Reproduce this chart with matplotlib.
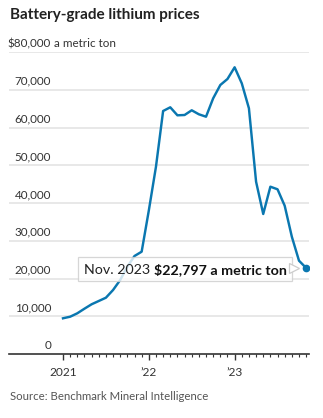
import numpy as np
import matplotlib.pyplot as plt
from matplotlib import transforms
from matplotlib.offsetbox import TextArea, HPacker, AnnotationBbox

plt.rcParams['font.family'] = ['Lato', 'DejaVu Sans']

# Monatliche Preise, Jan. 2021 bis Nov. 2023 (USD je Tonne)
prices = [9460, 9880, 10780, 12000, 13170, 14040, 14910, 16950, 19600, 23130,
          25960, 27100, 38000, 49600, 64370, 65350, 63230, 63310, 64560, 63500,
          62860, 67730, 71260, 72850, 75950, 71700, 65080, 45640, 37090, 44320,
          43630, 39280, 31070, 24720, 22797]
year_ticks = [0, 12, 24]
year_labels = ["2021", "\u201922", "\u201923"]
y_ticks = [0, 10000, 20000, 30000, 40000, 50000, 60000, 70000, 80000]
last_label = "Nov. 2023"
last_value = "$22,797 a metric ton"

blue = "#0a77b0"
grid = "#e6e6e6"
dark = "#333333"

months = np.arange(len(prices))

fig = plt.figure(figsize=(3.23, 4.18), dpi=100)
ax = fig.add_axes([9 / 323, 1 - 354 / 418, 300 / 323, 302 / 418])

ax.set_xlim(-7.55, 34.4)
ax.set_ylim(0, 80000)

# Gitterlinien
for v in y_ticks[1:]:
    ax.axhline(v, color=grid, lw=1.3, zorder=0)

ax.plot(months, prices, color=blue, lw=1.75, zorder=3, solid_joinstyle="round")
ax.plot(months[-1], prices[-1], "o", color=blue, ms=4.5, zorder=5)

# Achsen
for s in ["top", "right", "left"]:
    ax.spines[s].set_visible(False)
ax.spines["bottom"].set_color(dark)
ax.spines["bottom"].set_linewidth(1.2)
ax.set_yticks([])
ax.set_xticks(year_ticks)
ax.set_xticklabels(year_labels)
ax.set_xticks([m for m in months if m not in year_ticks], minor=True)
ax.tick_params(axis="x", which="major", length=4, width=1, color=dark,
               labelsize=8.6, labelcolor=dark, pad=5)
ax.tick_params(axis="x", which="minor", length=2, width=0.8, color=dark)

# Y-Beschriftungen über den Linien
ytrans = transforms.blended_transform_factory(ax.transAxes, ax.transData)
for v in y_ticks:
    if v == 80000:
        lab = "$80,000"
    else:
        lab = f"{v:,}"
    t = ax.text(0.14, v + 800, lab, transform=ytrans, ha="right", va="bottom",
                fontsize=8.4, color=dark)
    if v == 80000:
        ax.annotate(" a metric ton", xy=(1, 0), xycoords=t, ha="left",
                    va="bottom", fontsize=8.4, color=dark)

# Hinweisbox am letzten Punkt
pack = HPacker(children=[
    TextArea(last_label, textprops=dict(fontsize=10.3, color="#222222")),
    TextArea(last_value, textprops=dict(fontsize=10.3, color="#111111",
                                        fontweight="bold")),
], sep=3, pad=0, align="baseline")
ab = AnnotationBbox(pack, (months[-1], prices[-1]), xybox=(-14, -1),
                    boxcoords="offset points", box_alignment=(1, 0.5),
                    pad=0.4, frameon=True, zorder=4,
                    bboxprops=dict(facecolor="white", alpha=0.8,
                                   edgecolor="#cccccc", lw=0.9))
ax.add_artist(ab)
tip = transforms.offset_copy(ax.transData, fig=fig, x=-12, y=0, units="dots")
ax.plot(months[-1], prices[-1], marker=">", ms=7, mfc="white", mec="#cccccc",
        mew=0.9, transform=tip, zorder=4.5, clip_on=False)

fig.text(10 / 323, 1 - 15 / 418, "Battery-grade lithium prices",
         fontsize=11, fontweight="bold", color="#222222", va="center")
fig.text(10 / 323, 1 - 397 / 418, "Source: Benchmark Mineral Intelligence",
         fontsize=8.2, color="#555555", va="center")

fig.savefig("out.png", dpi=100)
